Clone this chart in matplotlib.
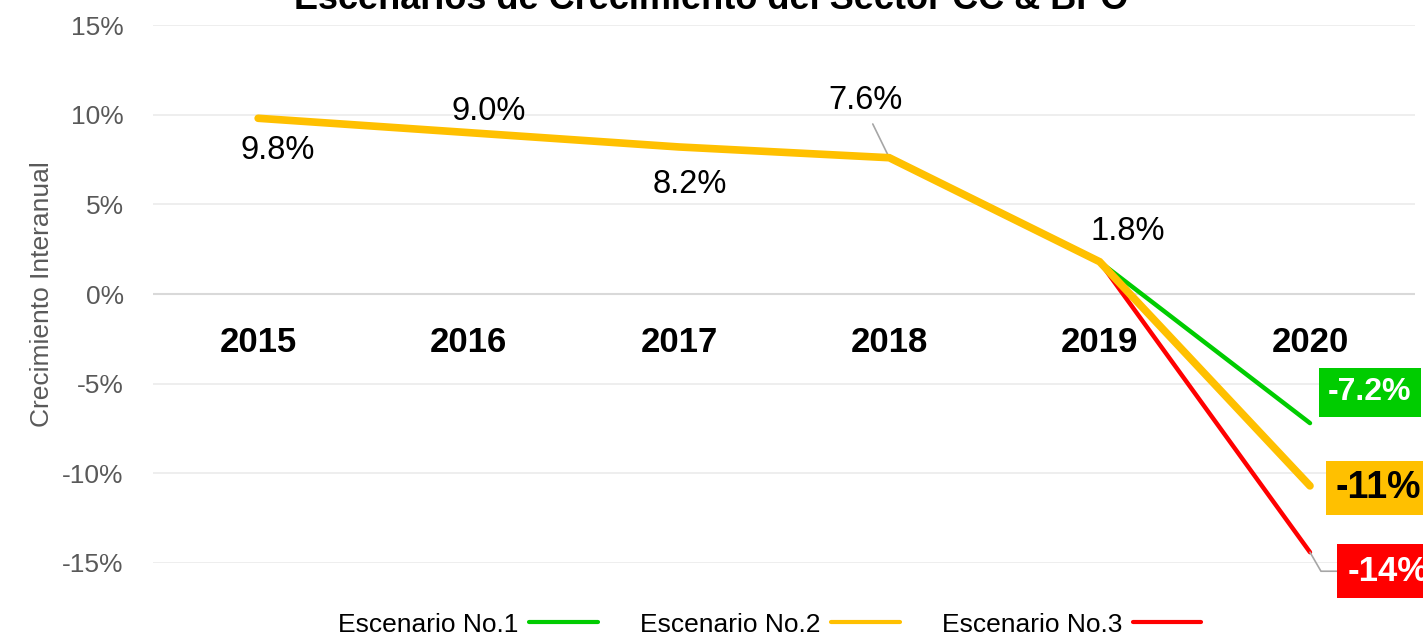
import numpy as np
import matplotlib.pyplot as plt

plt.rcParams['font.family'] = ['Liberation Sans', 'DejaVu Sans']

years = ['2015', '2016', '2017', '2018', '2019', '2020']
historico = [9.8, 9.0, 8.2, 7.6, 1.8]
esc_1 = -7.2
esc_2 = -10.7
esc_3 = -14.4
hist_labels = ['9.8%', '9.0%', '8.2%', '7.6%', '1.8%']
esc_labels = ['-7.2%', '-11%', '-14%']

c_green = '#00CC00'
c_orange = '#FFC000'
c_red = '#FF0000'
gray_txt = '#595959'

fig = plt.figure(figsize=(14.23, 6.35), dpi=100)
ax = fig.add_axes([0.1075, 0.1134, 0.887, 0.8472])

x = np.arange(len(years))
xh = x[:len(historico)]

ax.plot([x[4], x[5]], [historico[-1], esc_1], color=c_green, lw=3.2,
        solid_capstyle='round', label='Escenario No.1', zorder=3)
ax.plot([x[4], x[5]], [historico[-1], esc_3], color=c_red, lw=3.2,
        solid_capstyle='round', label='Escenario No.3', zorder=3)
ax.plot(list(xh) + [x[5]], historico + [esc_2], color=c_orange, lw=5.5,
        solid_capstyle='round', solid_joinstyle='miter', label='Escenario No.2', zorder=4)

ax.spines['bottom'].set_position(('data', 0))
for s in ax.spines.values():
    s.set_visible(False)

ax.set_xlim(-0.5, 5.5)
ax.set_ylim(-15, 15)
ax.set_yticks(np.arange(-15, 16, 5))
ax.set_yticklabels([f'{v}%' for v in range(-15, 16, 5)])
ax.tick_params(axis='y', length=0, labelsize=19, labelcolor=gray_txt, pad=21)
ax.yaxis.grid(True, color='#EBEBEB', lw=1.2)
ax.axhline(0, color='#D9D9D9', lw=1.5, zorder=1)
ax.set_axisbelow(True)

ax.set_xticks(x)
ax.set_xticklabels(years, fontsize=25, fontweight='bold')
ax.tick_params(axis='x', length=0, pad=23)

ax.set_ylabel('Crecimiento Interanual', fontsize=19, color=gray_txt, labelpad=6)

# data labels of the historical series
offsets = [(20, -32), (20, 21), (11, -38), (-24, 57), (28, 30)]
for i, (v, lab) in enumerate(zip(historico, hist_labels)):
    dx, dy = offsets[i]
    kw = {}
    if i == 3:
        kw['arrowprops'] = dict(arrowstyle='-', color='#A6A6A6', lw=1.2,
                                shrinkA=4, shrinkB=0, relpos=(0.55, 0))
    ax.annotate(lab, (x[i], v), xytext=(dx, dy), textcoords='offset pixels',
                ha='center', va='center', fontsize=23.5, color='black', **kw)

# scenario labels in coloured boxes
ax.annotate(esc_labels[0], (x[5], esc_1), xytext=(60, 31), textcoords='offset pixels',
            ha='center', va='center', fontsize=23, fontweight='bold', color='white',
            bbox=dict(boxstyle='square,pad=0.3', fc=c_green, ec='none'),
            annotation_clip=False)
ax.annotate(esc_labels[1], (x[5], esc_2), xytext=(68, -2), textcoords='offset pixels',
            ha='center', va='center', fontsize=27, fontweight='bold', color='black',
            bbox=dict(boxstyle='square,pad=0.25', fc=c_orange, ec='none'),
            annotation_clip=False)
ax.annotate(esc_labels[2], (x[5], esc_3), xytext=(78, -19), textcoords='offset pixels',
            ha='center', va='center', fontsize=25, fontweight='bold', color='white',
            bbox=dict(boxstyle='square,pad=0.3', fc=c_red, ec='none'),
            arrowprops=dict(arrowstyle='-', color='#A6A6A6', lw=1.2,
                            connectionstyle='angle,angleA=0,angleB=-60,rad=0',
                            shrinkA=0, shrinkB=0, relpos=(0, 0.5)),
            annotation_clip=False)

# title sits partly above the top edge, as in the source image
fig.text(0.5, 1 - 9 / 635, 'Escenarios de Crecimiento del Sector CC & BPO',
         ha='center', va='baseline', fontsize=26, fontweight='bold')

handles, labels = ax.get_legend_handles_labels()
order = [0, 2, 1]
leg = fig.legend([handles[k] for k in order], [labels[k] for k in order],
                 loc='lower center', bbox_to_anchor=(0.541, -0.04), ncol=3,
                 frameon=False, markerfirst=False, fontsize=19, handlelength=2.6,
                 columnspacing=1.6, handletextpad=0.4)
for h in leg.get_lines():
    h.set_linewidth(3)

fig.savefig('out.png', dpi=100)
